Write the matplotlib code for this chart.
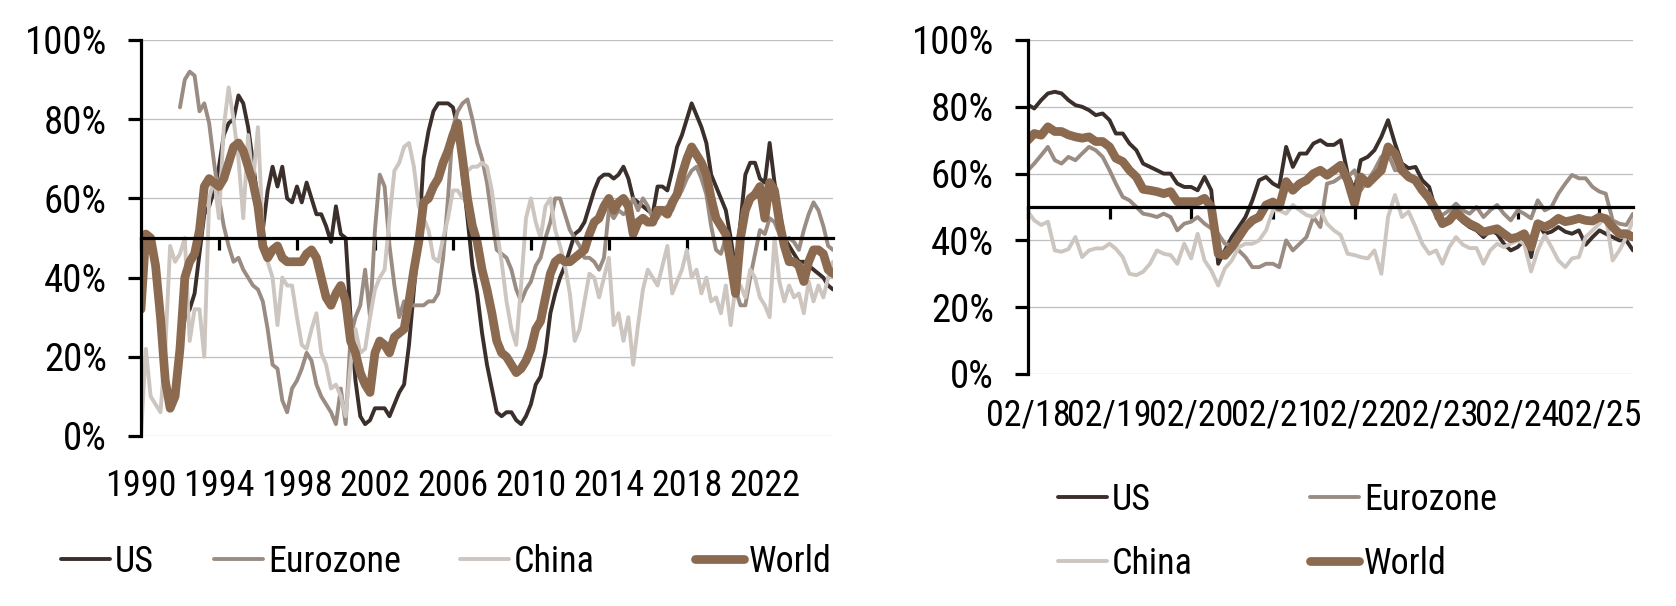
import matplotlib.pyplot as plt
import matplotlib.font_manager as fm
import numpy as np
import pandas as pd

# quarterly readings, Q1 1990 .. Q3 2025
long_dates = pd.date_range('1990-01-01', periods=143, freq='QS')
us_long = [33, 50, 49, 42, 29, 13, 7, 11, 21,
           30, 32, 36, 46, 56, 58, 62, 68, 76, 79, 80, 86, 84, 78, 69, 59, 52, 62, 68, 63, 68, 60, 59, 63,
           59, 64, 60, 56, 56, 53, 49, 58, 51, 50, 30, 14, 5, 3, 4,
           7, 7, 7, 5, 8, 11, 13, 23, 37, 50, 70, 77, 82, 84, 84, 84, 83, 78, 66, 55, 43, 36, 26, 18,
           12, 6, 5, 6, 6, 4, 3, 5, 8, 13, 15, 21, 31, 36, 40, 43, 47, 51, 52, 54, 58, 62, 65, 66,
           66, 65, 66, 68, 65, 60, 59, 58, 57, 56, 63, 63, 62, 67, 73, 76, 80, 84, 81, 78, 74, 66, 63, 60,
           57, 50, 42, 54, 66, 69, 69, 65, 64, 74, 64, 57, 50, 48, 46, 44, 44, 43, 42, 41, 40, 38, 37]
ez_long = [None, None, None, None, None, None, None, None,
           83, 90, 92, 91, 82, 84, 79, 69, 60, 53, 48, 44, 45, 42, 40, 38, 37, 34, 27, 18, 17, 9, 6, 12,
           14, 17, 21, 19, 13, 10, 8, 6, 3, 12, 3, 25, 30, 33, 42, 30,
           52, 66, 63, 48, 38, 30, 34, 33, 33, 33, 33, 34, 34, 36, 45, 60, 78, 82, 84, 85, 80, 74, 70, 64,
           55, 47, 46, 45, 42, 37, 34, 37, 39, 43, 45, 50, 54, 60, 60, 56, 52, 50, 48, 45, 45, 44, 42, 45,
           57, 55, 57, 56, 57, 60, 57, 60, 58, 55, 55, 57, 58, 57, 60, 62, 65, 67, 68, 65, 61, 53, 47, 46,
           50, 44, 37, 33, 33, 40, 46, 52, 51, 55, 54, 51, 49, 50, 49, 47, 52, 56, 59, 57, 53, 48, 47]
cn_long = [0, 22, 10, 8, 6, 22, 48, 44, 46, 50, 24, 32, 32, 20, 60, 65, 55, 78, 88, 80, 70, 55, 76, 64,
           78, 52, 44, 40, 28, 40, 38, 38, 30, 23, 22, 27, 31, 21, 18, 12, 13, 10, 5, 18, 27, 21, 22, 30,
           37, 40, 42, 55, 67, 69, 73, 74, 68, 58, 55, 52, 45, 44, 50, 55, 62, 62, 60, 67, 68, 68, 69, 68,
           62, 52, 44, 34, 27, 23, 38, 55, 60, 54, 50, 58, 60, 52, 48, 43, 36, 24, 27, 34, 41, 40, 35, 40,
           45, 28, 31, 24, 30, 18, 28, 37, 42, 40, 38, 43, 48, 36, 39, 42, 47, 40, 42, 36, 40, 34, 35, 31,
           38, 28, 38, 38, 35, 42, 40, 35, 33, 30, 50, 39, 34, 38, 35, 36, 31, 39, 34, 38, 35, 40, 44]
world_long = [32, 51, 50, 43, 30, 14, 7, 10, 22, 40, 44, 46, 52, 63, 65, 64, 63, 65, 69, 73, 74, 72, 68, 64,
              58, 48, 45, 47, 48, 45, 44, 44, 44, 44, 46, 47, 45, 40, 35, 33, 36, 38, 34, 24, 21, 16, 13, 11,
              21, 24, 23, 21, 25, 26, 27, 34, 42, 49, 59, 60, 63, 65, 69, 72, 76, 79, 70, 60, 53, 49, 42, 37,
              31, 24, 21, 20, 18, 16, 17, 19, 22, 27, 29, 35, 41, 44, 45, 44, 44, 45, 46, 47, 51, 54, 55, 58,
              60, 57, 59, 60, 58, 51, 54, 55, 54, 54, 57, 57, 56, 59, 61, 66, 70, 73, 71, 69, 66, 60, 55, 53,
              51, 44, 36, 50, 57, 60, 61, 63, 55, 64, 62, 54, 48, 44, 44, 43, 39, 44, 47, 47, 46, 42, 41]
long_ticks = pd.to_datetime(['%d-01-01' % y for y in range(1990, 2023, 4)])

# monthly readings, Feb 2018 .. Jul 2025
short_dates = pd.date_range('2018-02-01', periods=90, freq='MS')
us_short = [80.6, 79.5, 82, 84, 84.5, 84, 82, 80.5, 80, 79, 77.5, 78, 76, 72, 72, 69, 67, 63, 62, 61, 60, 60,
            57, 56, 56, 55, 59, 55, 33, 37, 41, 44, 47, 52, 58, 59, 57, 56, 68, 62, 66, 66, 69,
            70, 68.6, 68.6, 70, 60, 55, 64, 65, 67, 71, 76, 69, 63, 61.6, 62, 58, 56, 48.6, 45, 46, 47.5,
            45.5, 44, 43, 41, 43, 42, 39, 37, 38, 40, 35, 45, 42, 42.6, 44, 42.6, 42, 43, 38.7, 41, 43,
            42, 41, 40, 40, 37]
ez_short = [61, 63, 65.5, 68, 64, 63, 65, 64, 66, 68, 67, 65, 61, 57, 53, 52, 50, 48, 47.6, 47, 48, 47,
            43, 45, 45.6, 47, 45, 43.6, 42, 39, 38.5, 37, 35, 32, 32, 33, 33, 32, 40, 37, 39, 41, 47,
            44, 57, 57.6, 59, 59, 61, 55, 58, 61, 65, 66, 61, 61, 59, 58, 55, 54, 47, 47.6, 49, 51, 49,
            48, 50, 47, 49, 50.6, 48, 46, 49, 48, 46.6, 52, 49, 50, 54, 57, 59.6, 58.6, 58.6, 56, 54.6,
            54, 46, 45, 44.6, 48]
cn_short = [48.6, 46, 44.6, 45.6, 37, 36.6, 37.4, 41, 35, 37, 37.6, 37.6, 39, 37.5, 35, 30, 29.6, 30.6,
            33, 37, 36, 35.6, 33, 39, 34.6, 42, 34, 31, 26.5, 31.6, 34, 38, 39, 39, 40, 43, 49, 49, 48,
            50.6, 49, 47.6, 47,
            49, 45, 43, 41.6, 36, 35.6, 35, 34.6, 37, 30, 47, 53.6, 47, 48.6, 44, 39, 36, 37, 33, 38, 41,
            38.7, 37.7, 37.7, 33, 37, 39, 38, 39, 40, 39, 30.7, 37, 41.6, 38, 34, 32, 34.6, 35, 41, 43,
            45, 47, 34, 37, 41, 46]
world_short = [70, 72, 71.5, 74, 72.6, 72.6, 71.6, 71, 70.6, 71, 69.6, 69.6, 68, 64.6, 63.6, 61, 59, 55.3,
               55, 54.6, 54, 54.6, 51.6, 51.6, 51.6, 51.6, 52.6, 50, 36, 35.5, 38, 41, 44, 46, 47, 50.6,
               51.5, 50, 57.6, 55, 57, 58, 60,
               61, 59.5, 61, 62.5, 58, 51, 59, 57, 59, 61, 68, 66, 61, 59, 58, 55, 52.5, 49, 45, 46, 48.5,
               46.5, 45, 44, 42.5, 43, 43.5, 42, 40.5, 41, 42, 38, 45, 44, 45, 46.6, 45.6, 46, 46.6, 46,
               45.8, 47, 46.5, 44, 42, 42, 41]
short_ticks = pd.to_datetime(['%d-02-01' % y for y in range(2018, 2026)])

names = ['US', 'Eurozone', 'China', 'World']
colors = ['#3a2f2b', '#9a8c82', '#cdc5bf', '#8b6a50']
widths = [2.8, 2.8, 2.8, 6.3]

# the original uses Arial Narrow; look for any narrow / condensed face
wanted = ['Liberation Sans Narrow', 'Arial Narrow', 'Roboto Condensed', 'Open Sans Condensed',
          'DejaVu Sans Condensed', 'Noto Sans Condensed']
installed = {f.name for f in fm.fontManager.ttflist}
family, stretch, scale = None, 'normal', 1.0
for n in wanted:
    if n in installed:
        family = n
        break
if family is None:
    cond = [f for f in fm.fontManager.ttflist
            if f.stretch in ('condensed', 'semi-condensed', 'extra-condensed') and f.style == 'normal'
            and f.weight in (400, 'normal', 'regular')]
    if cond:
        family, stretch = cond[0].name, cond[0].stretch
if family is None:
    family, scale = 'Liberation Sans', 0.82

plt.rcParams['font.family'] = [family, 'DejaVu Sans']
plt.rcParams['font.stretch'] = stretch
ysize, xsize, lsize = 28 * scale, 26 * scale, 26 * scale

W, H = 1676, 606
fig = plt.figure(figsize=(W / 100, H / 100), dpi=100)
ax1 = fig.add_axes([141 / W, (H - 436) / H, (833 - 141) / W, 396 / H])
ax2 = fig.add_axes([1028 / W, (H - 374) / H, (1633 - 1028) / W, 334 / H])


def style_axis(ax, xticks, fmt, label_pad):
    ax.set_ylim(0, 100)
    ax.set_yticks([0, 20, 40, 60, 80, 100])
    ax.set_yticklabels(['%d%%' % v for v in [0, 20, 40, 60, 80, 100]])
    ax.grid(axis='y', color='#bfbfbf', lw=0.9)
    ax.set_axisbelow(True)
    for s in ['top', 'right']:
        ax.spines[s].set_visible(False)
    ax.spines['left'].set_linewidth(2.3)
    ax.spines['left'].set_color('black')
    # the category axis crosses at 50%
    ax.spines['bottom'].set_position(('data', 50))
    ax.spines['bottom'].set_linewidth(2.3)
    ax.spines['bottom'].set_color('black')
    ax.spines['bottom'].set_zorder(6)
    ax.set_xticks(xticks)
    ax.set_xticklabels([d.strftime(fmt) for d in xticks])
    ax.tick_params(axis='y', length=9.5, width=2.3, pad=15, labelsize=ysize)
    ax.tick_params(axis='x', length=8.5, width=2.3, pad=label_pad, labelsize=xsize)


def draw(ax, dates, series):
    lines = []
    for vals, c, lw in zip(series, colors, widths):
        y = np.array(vals, dtype=float)
        ln, = ax.plot(dates, y, color=c, lw=lw, solid_joinstyle='round', solid_capstyle='round')
        lines.append(ln)
    return lines


h1 = draw(ax1, long_dates, [us_long, ez_long, cn_long, world_long])
ax1.set_xlim(long_dates[0], long_dates[-1])
style_axis(ax1, long_ticks, '%Y', 157)

h2 = draw(ax2, short_dates, [us_short, ez_short, cn_short, world_short])
ax2.set_xlim(short_dates[0], short_dates[-1])
style_axis(ax2, short_ticks, '%m/%y', 129)

# one legend per entry, placed where the original puts them
leg_kw = dict(frameon=False, handlelength=1.35, handletextpad=0.15, borderpad=0, borderaxespad=0,
              fontsize=lsize, loc='center left')
left_x = [61, 214, 460, 695]
for h, name, xp in zip(h1, names, left_x):
    fig.legend([h], [name], bbox_to_anchor=(xp / W, 1 - 562 / H), **leg_kw)
right_xy = [(1058, 500), (1310, 500), (1058, 564), (1310, 564)]
for h, name, (xp, yp) in zip(h2, names, right_xy):
    fig.legend([h], [name], bbox_to_anchor=(xp / W, 1 - yp / H), **leg_kw)

fig.savefig('out.png', dpi=100)
